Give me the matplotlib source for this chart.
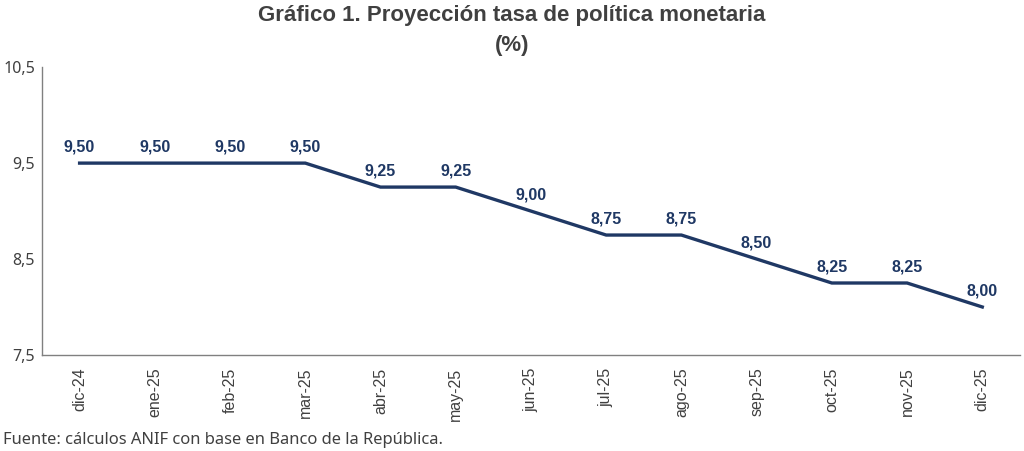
import matplotlib
matplotlib.use("Agg")
import matplotlib.pyplot as plt
from matplotlib import font_manager

categories = ["dic-24", "ene-25", "feb-25", "mar-25", "abr-25", "may-25", "jun-25",
              "jul-25", "ago-25", "sep-25", "oct-25", "nov-25", "dic-25"]
values = [9.50, 9.50, 9.50, 9.50, 9.25, 9.25, 9.00, 8.75, 8.75, 8.50, 8.25, 8.25, 8.00]
yticks = [7.5, 8.5, 9.5, 10.5]
ytick_labels = ["7,5", "8,5", "9,5", "10,5"]

names = {f.name for f in font_manager.fontManager.ttflist}
title_font = "Liberation Sans Narrow" if "Liberation Sans Narrow" in names else "Liberation Sans"
label_font = "Liberation Sans"
body_font = "Noto Sans"

fig = plt.figure(figsize=(10.24, 4.51), dpi=100)
ax = fig.add_axes([0.041, 0.213, 0.955, 0.638])

x = list(range(len(categories)))
navy = "#1F3864"
ax.plot(x, values, color=navy, linewidth=2.4, solid_joinstyle="miter")
for xi, v in zip(x, values):
    ax.annotate(f"{v:.2f}".replace(".", ","), (xi, v), xytext=(0, 6),
                textcoords="offset points", ha="center", va="bottom",
                fontsize=11.5, fontweight="bold", color=navy, family=label_font)

ax.set_xlim(-0.5, len(categories) - 0.5)
ax.set_ylim(7.5, 10.5)
ax.set_yticks(yticks)
ax.set_yticklabels(ytick_labels, fontsize=11.5, color="#404040", family=body_font)
ax.set_xticks(x)
ax.set_xticklabels(categories, rotation=90, fontsize=11.5, color="#404040", family=label_font)
ax.tick_params(axis="x", length=0, pad=9)
ax.tick_params(axis="y", length=0, pad=5)
for s in ["top", "right"]:
    ax.spines[s].set_visible(False)
for s in ["left", "bottom"]:
    ax.spines[s].set_color("#808080")
    ax.spines[s].set_linewidth(1)

fig.text(0.5, 0.965, "Gráfico 1. Proyección tasa de política monetaria", ha="center", va="center",
         fontsize=16, fontweight="bold", color="#404040", family=title_font)
fig.text(0.5, 0.9, "(%)", ha="center", va="center",
         fontsize=16, fontweight="bold", color="#404040", family=title_font)
fig.text(0.003, 0.025, "Fuente: cálculos ANIF con base en Banco de la República.", ha="left", va="center",
         fontsize=11.9, color="#404040", family=body_font)

fig.savefig("out.png", dpi=100, facecolor="white")
